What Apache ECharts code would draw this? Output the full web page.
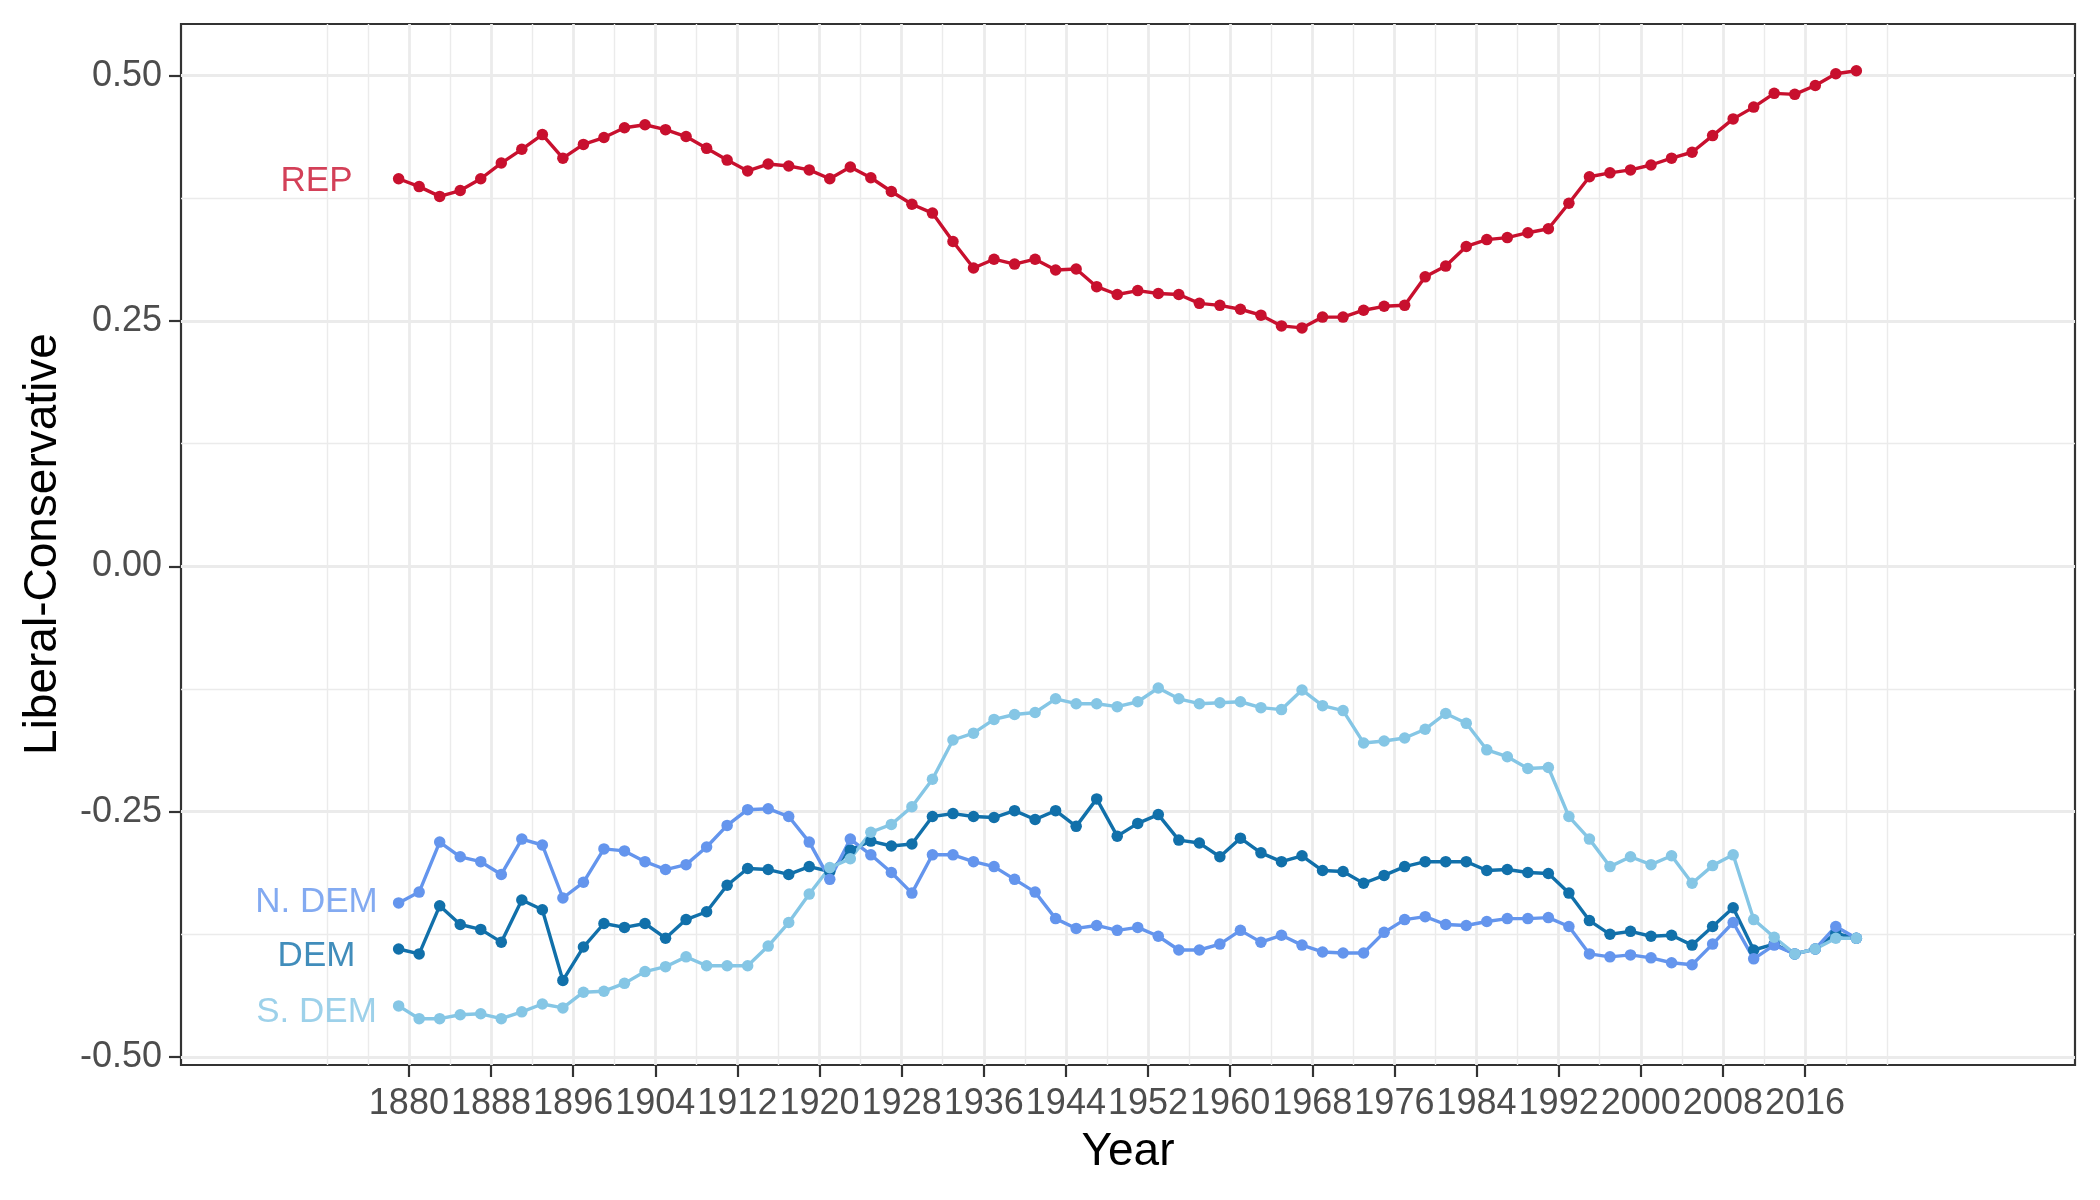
<!DOCTYPE html>
<html><head><meta charset="utf-8">
<script src="https://cdn.jsdelivr.net/npm/echarts@6/dist/echarts.min.js"></script>
<style>html,body{margin:0;padding:0;background:#fff}#c{width:2100px;height:1200px}</style>
</head><body><div id="c"></div>
<script>
const years = [
  1879,1881,1883,1885,1887,1889,1891,1893,1895,1897,
  1899,1901,1903,1905,1907,1909,1911,1913,1915,1917,
  1919,1921,1923,1925,1927,1929,1931,1933,1935,1937,
  1939,1941,1943,1945,1947,1949,1951,1953,1955,1957,
  1959,1961,1963,1965,1967,1969,1971,1973,1975,1977,
  1979,1981,1983,1985,1987,1989,1991,1993,1995,1997,
  1999,2001,2003,2005,2007,2009,2011,2013,2015,2017,
  2019,2021
];
const rep = [
  0.395,0.387,0.377,0.383,0.395,0.411,0.425,0.440,0.416,0.430,
  0.437,0.447,0.450,0.445,0.438,0.426,0.414,0.403,0.410,0.408,
  0.404,0.395,0.407,0.396,0.382,0.369,0.360,0.331,0.304,0.313,
  0.308,0.313,0.302,0.303,0.285,0.277,0.281,0.278,0.277,0.268,
  0.266,0.262,0.256,0.245,0.243,0.254,0.254,0.261,0.265,0.266,
  0.295,0.306,0.326,0.333,0.335,0.340,0.344,0.370,0.397,0.401,
  0.404,0.409,0.416,0.422,0.439,0.456,0.468,0.482,0.481,0.490,
  0.502,0.505
];
const nDem = [
  -0.343,-0.332,-0.281,-0.296,-0.301,-0.314,-0.278,-0.284,-0.338,-0.322,
  -0.288,-0.290,-0.301,-0.309,-0.304,-0.286,-0.264,-0.248,-0.247,-0.255,
  -0.281,-0.319,-0.278,-0.294,-0.312,-0.333,-0.294,-0.294,-0.301,-0.306,
  -0.319,-0.332,-0.359,-0.369,-0.366,-0.371,-0.368,-0.377,-0.391,-0.391,
  -0.385,-0.371,-0.383,-0.376,-0.386,-0.393,-0.394,-0.394,-0.373,-0.360,
  -0.357,-0.365,-0.366,-0.362,-0.359,-0.359,-0.358,-0.367,-0.395,-0.398,
  -0.396,-0.399,-0.404,-0.406,-0.385,-0.363,-0.400,-0.386,-0.395,-0.390,
  -0.367,-0.379
];
const dem = [
  -0.390,-0.395,-0.346,-0.365,-0.370,-0.383,-0.340,-0.350,-0.422,-0.388,
  -0.364,-0.368,-0.364,-0.379,-0.360,-0.352,-0.325,-0.308,-0.309,-0.314,
  -0.306,-0.311,-0.289,-0.280,-0.285,-0.283,-0.255,-0.252,-0.255,-0.256,
  -0.249,-0.258,-0.249,-0.265,-0.237,-0.275,-0.262,-0.253,-0.279,-0.282,
  -0.296,-0.277,-0.292,-0.301,-0.295,-0.310,-0.311,-0.323,-0.315,-0.306,
  -0.301,-0.301,-0.301,-0.310,-0.309,-0.312,-0.313,-0.333,-0.361,-0.375,
  -0.372,-0.377,-0.376,-0.386,-0.367,-0.348,-0.391,-0.385,-0.395,-0.390,
  -0.374,-0.379
];
const sDem = [
  -0.448,-0.461,-0.461,-0.457,-0.456,-0.461,-0.454,-0.446,-0.450,-0.434,
  -0.433,-0.425,-0.413,-0.408,-0.398,-0.407,-0.407,-0.407,-0.387,-0.363,
  -0.334,-0.307,-0.298,-0.271,-0.263,-0.245,-0.217,-0.177,-0.170,-0.156,
  -0.151,-0.149,-0.135,-0.140,-0.140,-0.143,-0.138,-0.124,-0.135,-0.140,
  -0.139,-0.138,-0.144,-0.146,-0.126,-0.142,-0.147,-0.180,-0.178,-0.175,
  -0.166,-0.150,-0.160,-0.187,-0.194,-0.206,-0.205,-0.255,-0.278,-0.306,
  -0.296,-0.304,-0.295,-0.323,-0.305,-0.294,-0.360,-0.378,-0.395,-0.390,
  -0.379,-0.379
];
const seriesNames = ['DEM','N. DEM','REP','S. DEM'];
const xMajorTicks = [1880,1888,1896,1904,1912,1920,1928,1936,1944,1952,1960,1968,1976,1984,1992,2000,2008,2016];
const xMinorTicks = [1872,1876,1884,1892,1900,1908,1916,1924,1932,1940,1948,1956,1964,1972,1980,1988,1996,2004,2012,2020,2024];
const yMajorTicks = [-0.5,-0.25,0,0.25,0.5];
const yMinorTicks = [-0.375,-0.125,0.125,0.375];
const labelYear = 1871;

const FONT = '"Liberation Sans", Arial, Helvetica, sans-serif';
const colors = {'DEM':'#1170AA','N. DEM':'#6495ED','REP':'#C8102E','S. DEM':'#85C6E5'};
const values = {'DEM':dem,'N. DEM':nDem,'REP':rep,'S. DEM':sDem};
const labelNudge = {'DEM':7,'N. DEM':-1,'REP':3,'S. DEM':6};
const X_MIN = 1857.8, X_MAX = 2042.3, Y_MIN = -0.5082, Y_MAX = 0.5527;
const GRID = '#EBEBEB';

const series = [];
seriesNames.forEach(name => {
  series.push({
    name: name, type: 'line', xAxisIndex: 0, yAxisIndex: 0,
    data: years.map((y, i) => [y, values[name][i]]),
    symbol: 'circle', symbolSize: 11.5, showSymbol: true,
    lineStyle: {color: colors[name], width: 3.4},
    itemStyle: {color: colors[name], borderWidth: 0},
    z: 3, silent: true
  });
});
seriesNames.forEach(name => {
  series.push({
    name: name + ' label', type: 'scatter', xAxisIndex: 0, yAxisIndex: 0,
    data: [[labelYear, values[name][0]]],
    symbolSize: 1, itemStyle: {color: 'rgba(0,0,0,0)'},
    label: {show: true, position: 'inside', formatter: name, color: colors[name],
            fontSize: 35, fontFamily: FONT, offset: [0, labelNudge[name]]},
    z: 4, silent: true
  });
});

const chart = echarts.init(document.getElementById('c'), null, {renderer: 'canvas'});
chart.setOption({
  animation: false,
  backgroundColor: '#ffffff',
  grid: {left: 181, right: 25, top: 24, bottom: 135, show: true,
         borderColor: '#333333', borderWidth: 2.2, backgroundColor: '#ffffff',
         containLabel: false, outerBoundsMode: 'none'},
  xAxis: [
    {type: 'value', min: X_MIN, max: X_MAX, position: 'bottom',
     axisLine: {show: false, onZero: false},
     axisTick: {show: true, customValues: xMajorTicks, length: 12, lineStyle: {color: '#333333', width: 2.2}},
     axisLabel: {show: true, customValues: xMajorTicks, formatter: v => String(Math.round(v)),
                 color: '#4D4D4D', fontSize: 36, fontFamily: FONT, margin: 21},
     splitLine: {show: true, lineStyle: {color: GRID, width: 2.8}}},
    {type: 'value', min: X_MIN, max: X_MAX, position: 'bottom',
     axisLine: {show: false, onZero: false},
     axisTick: {show: false, customValues: xMinorTicks},
     axisLabel: {show: false, customValues: xMinorTicks},
     splitLine: {show: true, lineStyle: {color: GRID, width: 1.4}}}
  ],
  yAxis: [
    {type: 'value', min: Y_MIN, max: Y_MAX, position: 'left',
     axisLine: {show: false, onZero: false},
     axisTick: {show: true, customValues: yMajorTicks, length: 12, lineStyle: {color: '#333333', width: 2.2}},
     axisLabel: {show: true, customValues: yMajorTicks, formatter: v => v.toFixed(2),
                 color: '#4D4D4D', fontSize: 36, fontFamily: FONT, margin: 19},
     splitLine: {show: true, lineStyle: {color: GRID, width: 2.8}}},
    {type: 'value', min: Y_MIN, max: Y_MAX, position: 'left',
     axisLine: {show: false, onZero: false},
     axisTick: {show: false, customValues: yMinorTicks},
     axisLabel: {show: false, customValues: yMinorTicks},
     splitLine: {show: true, lineStyle: {color: GRID, width: 1.4}}}
  ],
  graphic: [
    {type: 'text', x: 1128, y: 1152, style: {text: 'Year', fontSize: 46, fontFamily: FONT,
      fill: '#000000', textAlign: 'center', textVerticalAlign: 'middle'}},
    {type: 'text', x: 43, y: 544, rotation: Math.PI / 2, style: {text: 'Liberal-Conservative', fontSize: 46,
      fontFamily: FONT, fill: '#000000', textAlign: 'center', textVerticalAlign: 'middle'}}
  ],
  series: series
});
</script>
</body></html>
